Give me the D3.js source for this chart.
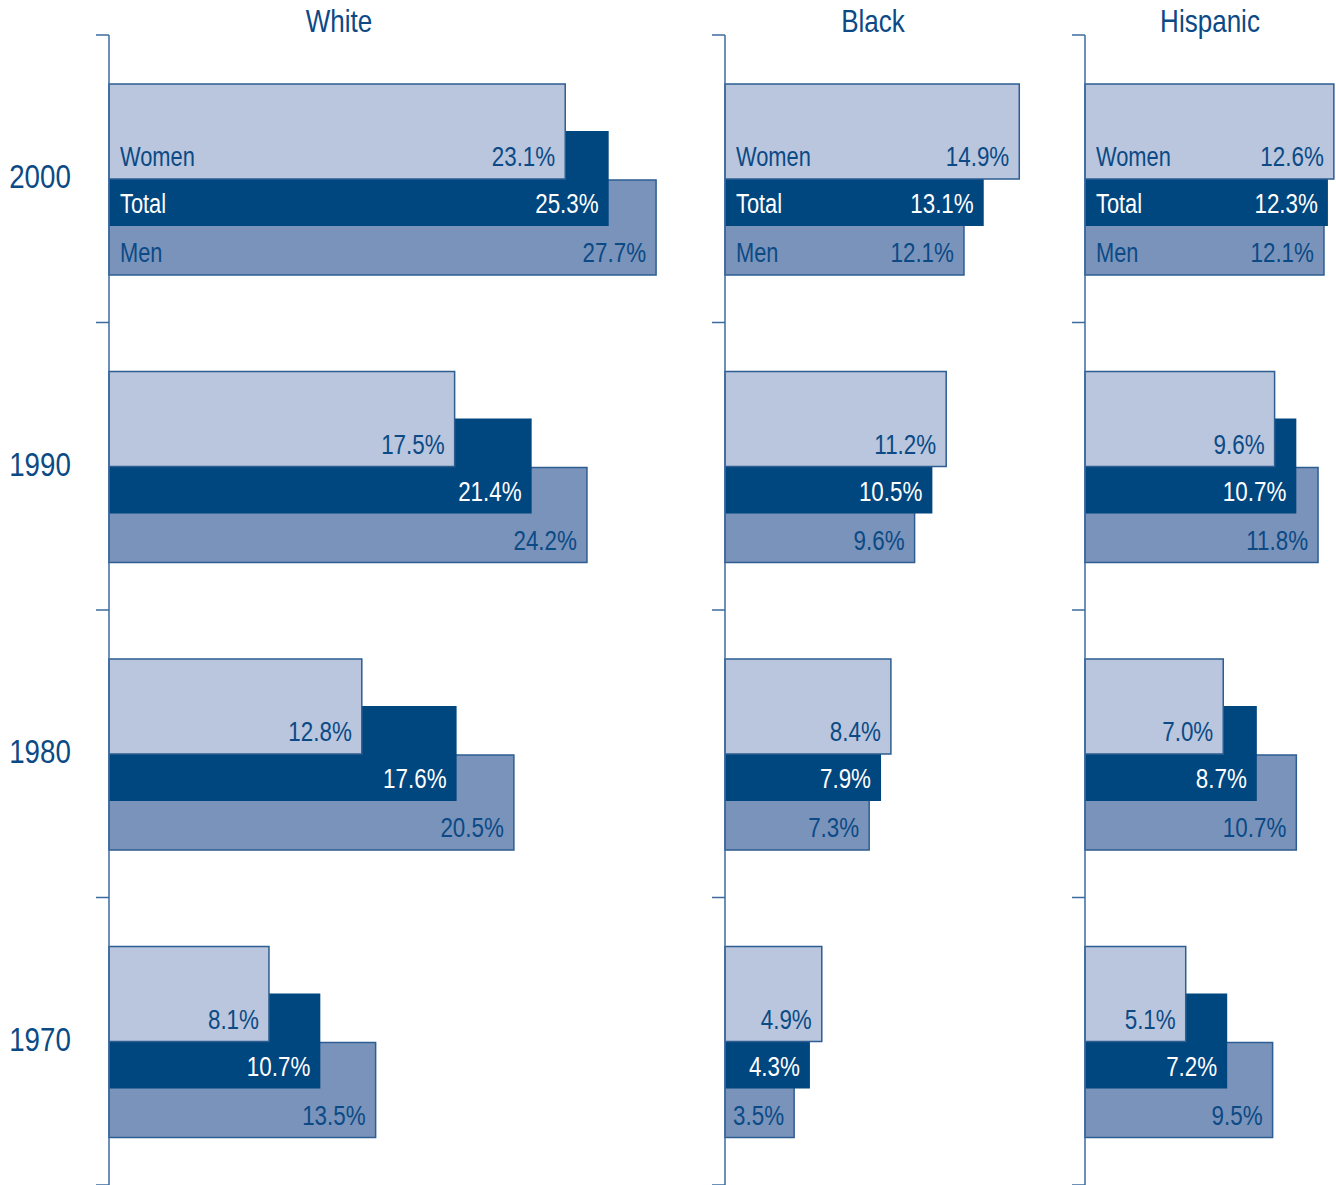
<!DOCTYPE html>
<html>
<head>
<meta charset="utf-8">
<script src="https://d3js.org/d3.v7.min.js"></script>
<style>
  body { margin: 0; background: #fff; }
  svg text { font-family: "Liberation Sans Narrow", "Liberation Sans", sans-serif; }
</style>
</head>
<body>
<div class="chart"></div>
<script>

// data
var years = ["2000", "1990", "1980", "1970"];
var groups = ["White", "Black", "Hispanic"];
var series = ["Men", "Total", "Women"];   // drawing order, women sits on top

var women = {
  White:    [23.1, 17.5, 12.8, 8.1],
  Black:    [14.9, 11.2, 8.4, 4.9],
  Hispanic: [12.6, 9.6, 7.0, 5.1]
};
var total = {
  White:    [25.3, 21.4, 17.6, 10.7],
  Black:    [13.1, 10.5, 7.9, 4.3],
  Hispanic: [12.3, 10.7, 8.7, 7.2]
};
var men = {
  White:    [27.7, 24.2, 20.5, 13.5],
  Black:    [12.1, 9.6, 7.3, 3.5],
  Hispanic: [12.1, 11.8, 10.7, 9.5]
};
var values = { Women: women, Total: total, Men: men };

// layout
var axisX = { White: 109, Black: 725, Hispanic: 1085 };
var titleX = { White: 339, Black: 873, Hispanic: 1210 };
var offset = { Women: 49, Total: 96, Men: 145 };
var barH = 95;
var fill = { Women: "#b9c6dd", Total: "#00467f", Men: "#7a93bb" };
var textCol = "#0b4a85";

// no condensed face installed, so squeeze the text horizontally
function squeeze(sel, fx, fy, k) {
  sel.attr("transform", function(d, i) {
    return "translate(" + fx(d, i) + "," + fy(d, i) + ") scale(" + k + ",1)";
  });
}

var svg = d3.select(".chart").append("svg")
  .attr("width", 1336).attr("height", 1185);

var y = d3.scaleBand().domain(years).range([35, 1185]);
var x = d3.scaleLinear().domain([0, 30]).range([0, 592.5]);

groups.forEach(function(g) {
  var p = svg.append("g").attr("transform", "translate(" + axisX[g] + ",0)");

  // bars
  series.forEach(function(s) {
    p.selectAll("rect." + s).data(values[s][g]).enter().append("rect")
      .attr("x", 0)
      .attr("y", function(d, i) { return y(years[i]) + offset[s]; })
      .attr("width", function(d) { return x(d); })
      .attr("height", barH)
      .attr("fill", fill[s])
      .attr("stroke", s == "Total" ? "none" : "#2d5d91")
      .attr("stroke-width", 1.5);
  });

  // value labels, sit in the visible lower half of each bar
  series.forEach(function(s) {
    var t = p.selectAll("text.v" + s).data(values[s][g]).enter().append("text")
      .attr("text-anchor", "end")
      .attr("font-size", 28)
      .attr("fill", s == "Total" ? "#fff" : textCol)
      .text(function(d) { return d.toFixed(1) + "%"; });
    squeeze(t, function(d) { return x(d) - 10; },
               function(d, i) { return y(years[i]) + offset[s] + 82; }, 0.8);
  });

  // series names, first row only
  ["Women", "Total", "Men"].forEach(function(s) {
    var t = p.append("text")
      .attr("font-size", 28)
      .attr("fill", s == "Total" ? "#fff" : textCol)
      .text(s);
    squeeze(t, function() { return 11; },
               function() { return y(years[0]) + offset[s] + 82; }, 0.78);
  });

  // axis line + ticks at the band edges
  p.append("line").attr("x1", 0).attr("x2", 0).attr("y1", 35).attr("y2", 1185)
    .attr("stroke", "#3b6b9e").attr("stroke-width", 1.5);
  p.selectAll("line.tick").data(years.concat(["end"])).enter().append("line")
    .attr("x1", -13).attr("x2", 0)
    .attr("y1", function(d, i) { return 35 + i * y.step(); })
    .attr("y2", function(d, i) { return 35 + i * y.step(); })
    .attr("stroke", "#3b6b9e").attr("stroke-width", 1.5);

  var tt = svg.append("text")
    .attr("text-anchor", "middle")
    .attr("font-size", 31)
    .attr("fill", textCol)
    .text(g);
  squeeze(tt, function() { return titleX[g]; }, function() { return 32; }, 0.84);
});

// year labels
var yl = svg.selectAll("text.year").data(years).enter().append("text")
  .attr("text-anchor", "middle")
  .attr("font-size", 33)
  .attr("fill", textCol)
  .text(function(d) { return d; });
squeeze(yl, function() { return 40; }, function(d) { return y(d) + offset.Total + 57; }, 0.84);

</script>
</body>
</html>
